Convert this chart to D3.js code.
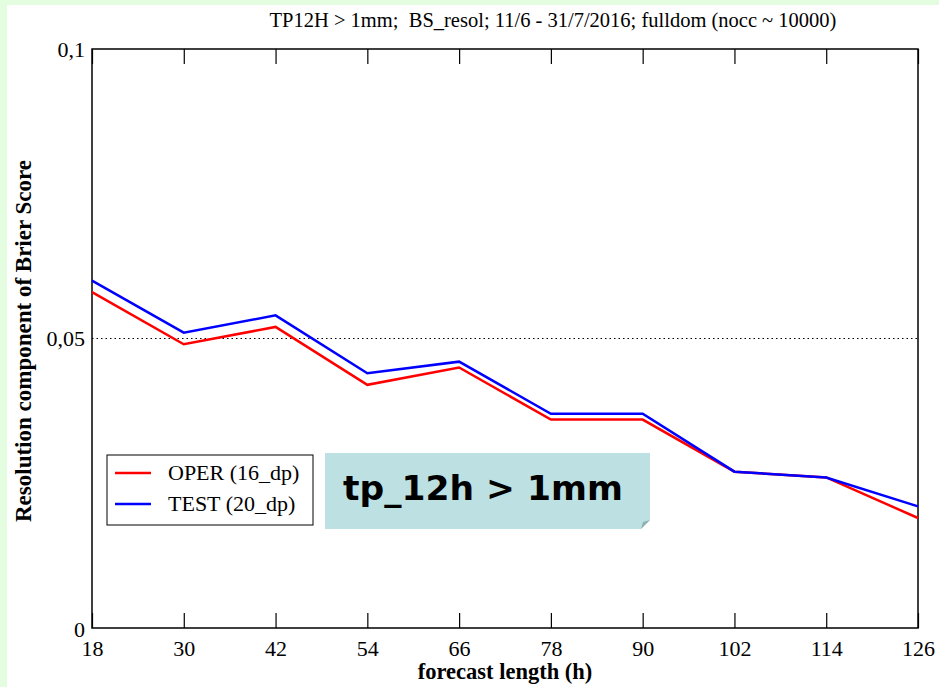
<!DOCTYPE html>
<html><head><meta charset="utf-8">
<script src="https://cdn.jsdelivr.net/npm/d3@7"></script>
<style>body{margin:0;background:#fff}svg{display:block}</style>
</head><body>
<script>
const xTicks = [18, 30, 42, 54, 66, 78, 90, 102, 114, 126];
const operValues = [0.058, 0.049, 0.052, 0.042, 0.045, 0.036, 0.036, 0.027, 0.026, 0.019];
const testValues = [0.060, 0.051, 0.054, 0.044, 0.046, 0.037, 0.037, 0.027, 0.026, 0.021];
const yTickValues = [0, 0.05, 0.1];
const yTickLabels = ["0", "0,05", "0,1"];
const seriesNames = ["OPER (16_dp)", "TEST (20_dp)"];
const seriesColors = ["#ff0000", "#0000ff"];
const title = "TP12H > 1mm;  BS_resol; 11/6 - 31/7/2016; fulldom (nocc ~ 10000)";
const xTitle = "forecast length (h)";
const yTitle = "Resolution component of Brier Score";
const badge = "tp_12h > 1mm";

const W = 939, H = 687;
const svg = d3.select("body").append("svg").attr("width", W).attr("height", H);
svg.append("rect").attr("width", W).attr("height", H).attr("fill", "#fff");
svg.append("rect").attr("x", 0).attr("y", 0).attr("width", 7).attr("height", H).attr("fill", "#e4fde0");
svg.append("rect").attr("x", 0).attr("y", 0).attr("width", W).attr("height", 5).attr("fill", "#e4fde0");

const L = 92, R = 918, T = 49, B = 628;
const x = d3.scaleLinear().domain([18, 126]).range([L, R]);
const y = d3.scaleLinear().domain([0, 0.1]).range([B, T]);
const serif = "'Liberation Serif','DejaVu Serif',serif";

// title
svg.append("text").attr("x", 553).attr("y", 27).attr("text-anchor", "middle")
  .attr("font-family", serif).attr("font-size", 20.5).attr("xml:space", "preserve").text(title);

// dotted 0.05 line
svg.append("line").attr("x1", L).attr("x2", R).attr("y1", y(0.05)).attr("y2", y(0.05))
  .attr("stroke", "#000").attr("stroke-width", 1).attr("stroke-dasharray", "1.5,3");

// bottom axis
const gx = svg.append("g").attr("transform", `translate(0,${B})`)
  .call(d3.axisBottom(x).tickValues(xTicks).tickSizeInner(-15).tickSizeOuter(0).tickPadding(12).tickFormat(d3.format("d")));
gx.select(".domain").remove();
gx.selectAll("text").attr("font-family", serif).attr("font-size", 22).attr("fill", "#000");
gx.selectAll("line").attr("stroke", "#000").attr("stroke-width", 1.2);
// top ticks
const gt = svg.append("g").attr("transform", `translate(0,${T})`)
  .call(d3.axisTop(x).tickValues(xTicks).tickSizeInner(-15).tickSizeOuter(0).tickFormat(""));
gt.select(".domain").remove();
gt.selectAll("line").attr("stroke", "#000").attr("stroke-width", 1.2);

// left axis labels
const gy = svg.append("g").attr("transform", `translate(${L},0)`)
  .call(d3.axisLeft(y).tickValues(yTickValues).tickSize(0).tickPadding(7)
    .tickFormat((d, i) => yTickLabels[i]));
gy.select(".domain").remove();
gy.selectAll("text").attr("font-family", serif).attr("font-size", 22).attr("fill", "#000");
gy.selectAll(".tick").filter(d => d === 0).select("text").attr("dy", "0.4em");

// frame
svg.append("rect").attr("x", L).attr("y", T).attr("width", R - L).attr("height", B - T)
  .attr("fill", "none").attr("stroke", "#000").attr("stroke-width", 1.5);

// lines
const line = d3.line().x((d, i) => x(xTicks[i])).y(d => y(d));
[operValues, testValues].forEach((vals, k) => {
  svg.append("path").datum(vals).attr("d", line).attr("fill", "none")
    .attr("stroke", seriesColors[k]).attr("stroke-width", 2.5).attr("stroke-linejoin", "miter");
});

// axis titles
svg.append("text").attr("x", 505).attr("y", 679).attr("text-anchor", "middle")
  .attr("font-family", serif).attr("font-weight", "bold").attr("font-size", 22.5).text(xTitle);
svg.append("text").attr("transform", "translate(31,341) rotate(-90)").attr("text-anchor", "middle")
  .attr("font-family", serif).attr("font-weight", "bold").attr("font-size", 23).text(yTitle);

// legend
svg.append("rect").attr("x", 107).attr("y", 455).attr("width", 206).attr("height", 70)
  .attr("fill", "#fff").attr("stroke", "#000").attr("stroke-width", 1);
seriesNames.forEach((n, i) => {
  const yy = 473 + i * 31;
  svg.append("line").attr("x1", 115).attr("x2", 151).attr("y1", yy).attr("y2", yy)
    .attr("stroke", seriesColors[i]).attr("stroke-width", 2.5);
  svg.append("text").attr("x", 168).attr("y", yy + 7).attr("font-family", serif).attr("font-size", 22).text(n);
});

// badge
svg.append("path").attr("d", "M325,453 H650 V520 L641,529 H325 Z").attr("fill", "#bde0e3");
svg.append("path").attr("d", "M650,520 L641,529 L643,522 Z").attr("fill", "#8fb0b3");
svg.append("text").attr("x", 483).attr("y", 500).attr("text-anchor", "middle")
  .attr("font-family", "'DejaVu Sans',Verdana,sans-serif").attr("font-weight", "bold").attr("font-size", 34.5).text(badge);
</script>
</body></html>
